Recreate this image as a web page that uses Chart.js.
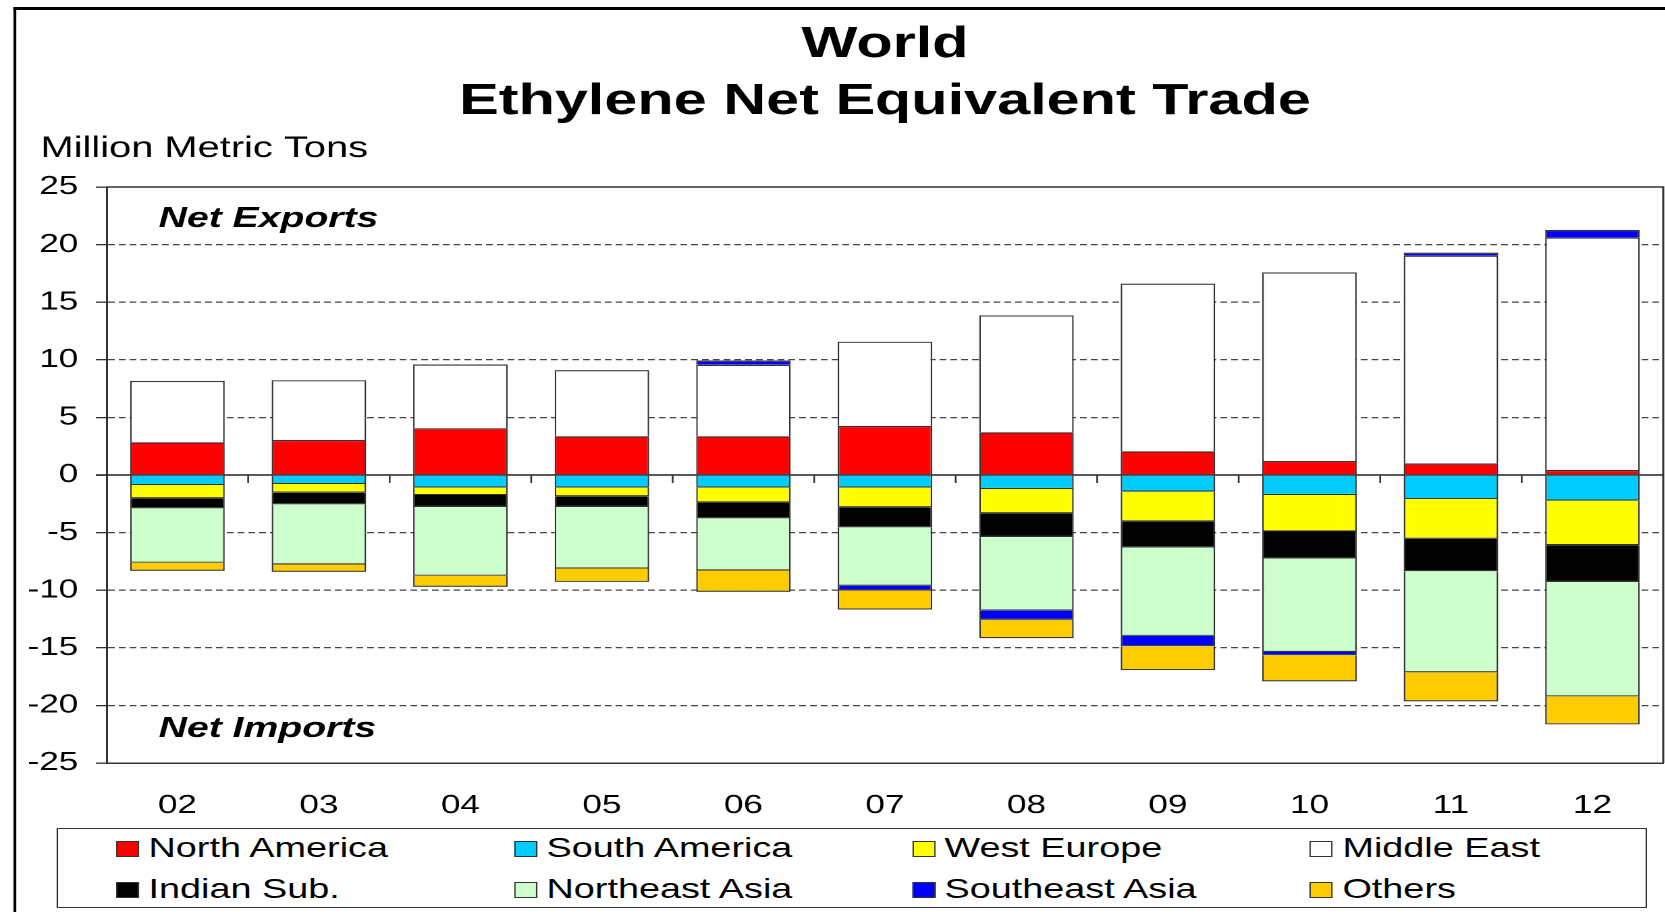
<!DOCTYPE html>
<html>
<head>
<meta charset="utf-8">
<title>World Ethylene Net Equivalent Trade</title>
<script src="https://cdn.jsdelivr.net/npm/chart.js@4.4.1/dist/chart.umd.min.js"></script>
<style>
html, body { margin: 0; padding: 0; background: #fff; overflow: hidden; }
/* the reference text is wide, so the whole stage is stretched sideways */
#stage { position: absolute; left: 0; top: 0; width: 1234px; height: 912px; transform: scaleX(1.35); transform-origin: 0 0; font-family: "Liberation Sans", Arial, sans-serif; }
.frameV { position: absolute; left: 10px; top: 7px; width: 2.2px; height: 920px; background: #000; }
.frameH { position: absolute; left: 10px; top: 7px; width: 1240px; height: 3px; background: #000; }
#chartBox { position: absolute; left: 0; top: 0; width: 1234px; height: 912px; }
#legend { position: absolute; left: 41.5px; top: 828px; width: 1178px; height: 80px; border: 1.5px solid #333; box-sizing: border-box; background: #fff; }
.item { position: absolute; display: flex; align-items: center; font-size: 28px; line-height: 1; color: #000; white-space: nowrap; transform: translateY(-50%); }
.sw { width: 17px; height: 16px; border: 1px solid #333; box-sizing: border-box; margin-right: 7px; margin-top: 2px; }
</style>
</head>
<body>
<div id="stage">
  <div class="frameV"></div>
  <div class="frameH"></div>
  <div id="chartBox"><canvas id="myChart"></canvas></div>
  <div id="legend"></div>
</div>
<script>
var years = ['02', '03', '04', '05', '06', '07', '08', '09', '10', '11', '12']

var northAmerica  = [2.84, 3.04, 4.06, 3.36, 3.36, 4.26, 3.71, 2.06, 1.22, 1.01, 0.43]
var southAmerica  = [-0.87, -0.78, -1.10, -1.10, -1.10, -1.10, -1.22, -1.45, -1.74, -2.09, -2.23]
var westEurope    = [-1.16, -0.76, -0.64, -0.75, -1.28, -1.71, -2.11, -2.58, -3.16, -3.45, -3.86]
var middleEast    = [5.33, 5.19, 5.53, 5.74, 6.21, 7.31, 10.15, 14.55, 16.37, 18.03, 20.18]
var indianSub     = [-0.87, -1.01, -1.04, -0.93, -1.39, -1.74, -2.06, -2.26, -2.35, -2.81, -3.21]
var northeastAsia = [-4.72, -5.22, -5.97, -5.34, -4.52, -5.07, -6.38, -7.68, -8.11, -8.78, -9.92]
var southeastAsia = [null, null, null, null, 0.37, -0.41, -0.81, -0.90, -0.29, 0.26, 0.66]
var others        = [-0.70, -0.64, -0.96, -1.16, -1.85, -1.65, -1.59, -2.06, -2.26, -2.52, -2.43]

var regionNames = ['North America', 'South America', 'West Europe', 'Middle East',
                   'Indian Sub.', 'Northeast Asia', 'Southeast Asia', 'Others']
var regionColors = ['#ff0000', '#00ccff', '#ffff00', '#ffffff',
                    '#000000', '#ccffcc', '#0000ff', '#ffcc00']
var regionValues = [northAmerica, southAmerica, westEurope, middleEast,
                    indianSub, northeastAsia, southeastAsia, others]

var yTicks = [-25, -20, -15, -10, -5, 0, 5, 10, 15, 20, 25]

var FONT = '"Liberation Sans", Arial, sans-serif'

var datasets = regionNames.map(function (name, i) {
    return {
        label: name,
        data: regionValues[i],
        backgroundColor: regionColors[i],
        borderColor: '#333',
        borderWidth: 1.2,
        categoryPercentage: 1,
        barPercentage: 0.668
    }
})

// extra lines and text the chart needs
var extras = {
    id: 'extras',
    beforeDatasetsDraw: function (chart) {
        var ctx = chart.ctx, a = chart.chartArea, y = chart.scales.y
        var y0 = y.getPixelForValue(0)
        ctx.save()
        ctx.strokeStyle = '#222'
        ctx.lineWidth = 1.5
        ctx.beginPath()
        ctx.moveTo(a.left - 8, y0)
        ctx.lineTo(a.right, y0)
        ctx.stroke()
        ctx.restore()
    },
    afterDatasetsDraw: function (chart) {
        var ctx = chart.ctx, a = chart.chartArea, x = chart.scales.x, y = chart.scales.y
        var y0 = y.getPixelForValue(0)
        ctx.save()
        ctx.strokeStyle = '#333'
        ctx.lineWidth = 1.5
        ctx.beginPath()
        ctx.moveTo(a.left, a.top)
        ctx.lineTo(a.right, a.top)
        ctx.lineTo(a.right, a.bottom)
        ctx.stroke()
        // small marks between categories on the zero line
        ctx.lineWidth = 1.3
        for (var i = 1; i < years.length; i++) {
            var xm = (x.getPixelForValue(i - 1) + x.getPixelForValue(i)) / 2
            ctx.beginPath()
            ctx.moveTo(xm, y0)
            ctx.lineTo(xm, y0 + 8)
            ctx.stroke()
        }
        ctx.restore()
    },
    afterDraw: function (chart) {
        var ctx = chart.ctx, a = chart.chartArea
        var cx = (a.left + a.right) / 2
        ctx.save()
        ctx.fillStyle = '#000'
        ctx.textBaseline = 'middle'
        ctx.textAlign = 'center'
        ctx.font = 'bold 44px ' + FONT
        ctx.fillText('World', cx, 45)
        ctx.fillText('Ethylene Net Equivalent Trade', cx, 102)
        ctx.textAlign = 'left'
        ctx.font = '29.5px ' + FONT
        ctx.fillText('Million Metric Tons', 30, 149)
        ctx.font = 'italic bold 29px ' + FONT
        ctx.fillText('Net Exports', a.left + 38.5, a.top + 32)
        ctx.fillText('Net Imports', a.left + 38.5, a.bottom - 34)
        ctx.restore()
    }
}

var chartField = document.querySelector('#myChart').getContext('2d')

var myChart = new Chart(chartField, {
    type: 'bar',
    data: {
        labels: years,
        datasets: datasets
    },
    options: {
        responsive: true,
        maintainAspectRatio: false,
        animation: false,
        devicePixelRatio: 2,
        layout: { padding: { top: 187, right: 2, bottom: 89, left: 0 } },
        plugins: {
            legend: { display: false },
            title: { display: false },
            tooltip: { enabled: false }
        },
        scales: {
            x: {
                stacked: true,
                grid: { display: false },
                border: { display: true, color: '#333', width: 1.5 },
                ticks: { color: '#000', font: { family: FONT, size: 26 }, padding: 19 },
                afterFit: function (scale) { scale.height = 60 }
            },
            y: {
                stacked: true,
                min: -25,
                max: 25,
                afterBuildTicks: function (scale) {
                    scale.ticks = yTicks.map(function (v) { return { value: v } })
                },
                afterFit: function (scale) { scale.width = 79 },
                ticks: { color: '#000', font: { family: FONT, size: 26 }, padding: 13 },
                grid: {
                    color: function (c) {
                        var v = c.tick ? c.tick.value : null
                        return (v === 0 || v === 25 || v === -25) ? 'rgba(0,0,0,0)' : '#444'
                    },
                    lineWidth: 1.3,
                    tickLength: 8,
                    tickColor: '#333',
                    tickWidth: 1.3,
                    tickBorderDash: []
                },
                border: { display: true, color: '#333', width: 1.5, dash: [5, 3] }
            }
        }
    },
    plugins: [extras]
})

// legend box built from the datasets
var legendBox = document.querySelector('#legend')
myChart.data.datasets.forEach(function (ds, i) {
    var col = i % 4
    var row = Math.floor(i / 4)
    var item = document.createElement('div')
    item.className = 'item'
    item.style.left = (43.5 + col * 294.8) + 'px'
    item.style.top = (row === 0 ? 19.4 : 59.8) + 'px'
    var sw = document.createElement('span')
    sw.className = 'sw'
    sw.style.background = ds.backgroundColor
    var txt = document.createElement('span')
    txt.textContent = ds.label
    item.appendChild(sw)
    item.appendChild(txt)
    legendBox.appendChild(item)
})
</script>
</body>
</html>
